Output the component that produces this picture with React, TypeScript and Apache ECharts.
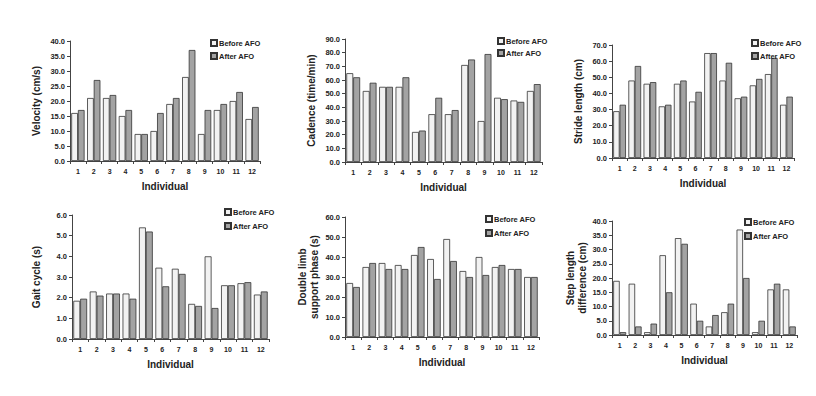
import React, { useEffect, useRef } from "react";
import * as echarts from "echarts";

const categories = ["1", "2", "3", "4", "5", "6", "7", "8", "9", "10", "11", "12"];

const velocityBefore = [16, 21, 21, 15, 9, 10, 19, 28, 9, 17, 20, 14];
const velocityAfter = [17, 27, 22, 17, 9, 16, 21, 37, 17, 19, 23, 18];

const cadenceBefore = [65, 52, 55, 55, 22, 35, 35, 71, 30, 47, 45, 52];
const cadenceAfter = [62, 58, 55, 62, 23, 47, 38, 75, 79, 46, 44, 57];

const strideBefore = [29, 48, 46, 32, 46, 35, 65, 48, 37, 45, 52, 33];
const strideAfter = [33, 57, 47, 33, 48, 41, 65, 59, 38, 49, 62, 38];

const gaitBefore = [1.85, 2.3, 2.2, 2.2, 5.4, 3.45, 3.4, 1.7, 4.0, 2.6, 2.7, 2.15];
const gaitAfter = [1.95, 2.1, 2.2, 1.95, 5.2, 2.55, 3.15, 1.6, 1.5, 2.6, 2.75, 2.3];

const doubleBefore = [27, 35, 37, 36, 41, 39, 49, 33, 40, 35, 34, 30];
const doubleAfter = [25, 37, 34, 34, 45, 29, 38, 30, 31, 36, 34, 30];

const stepBefore = [19, 18, 1, 28, 34, 11, 3, 8, 37, 1, 16, 16];
const stepAfter = [1, 3, 4, 15, 32, 5, 7, 11, 20, 5, 18, 3];

const panels = [
  { title: "Velocity (cm/s)", max: 40, interval: 5, before: velocityBefore, after: velocityAfter,
    grid: { left: 70, top: 41, width: 190, height: 120 }, legend: { left: 210, top: 39 }, gap: 5, nameGap: 28 },
  { title: "Cadence (time/min)", max: 90, interval: 10, before: cadenceBefore, after: cadenceAfter,
    grid: { left: 345, top: 39, width: 197, height: 123 }, legend: { left: 497, top: 37 }, gap: 4, nameGap: 28 },
  { title: "Stride length (cm)", max: 70, interval: 10, before: strideBefore, after: strideAfter,
    grid: { left: 612, top: 45, width: 182, height: 113 }, legend: { left: 751, top: 39 }, gap: 5, nameGap: 28 },
  { title: "Gait cycle (s)", max: 6, interval: 1, before: gaitBefore, after: gaitAfter,
    grid: { left: 72, top: 215, width: 197, height: 124 }, legend: { left: 224, top: 208 }, gap: 6, nameGap: 30 },
  { title: "Double limb\nsupport phase (s)", max: 60, interval: 10, before: doubleBefore, after: doubleAfter,
    grid: { left: 345, top: 217, width: 194, height: 120 }, legend: { left: 485, top: 215 }, gap: 6, nameGap: 25 },
  { title: "Step length\ndifference (cm)", max: 40, interval: 5, before: stepBefore, after: stepAfter,
    grid: { left: 612, top: 221, width: 185, height: 114 }, legend: { left: 744, top: 218 }, gap: 6, nameGap: 23 },
];

const FONT = "Liberation Sans, Arial, sans-serif";
const TXT = "#222";
const AX = "#444";

export default function App() {
  const ref = useRef<HTMLDivElement>(null);
  useEffect(() => {
    document.body.style.margin = "0";
    const chart = echarts.init(ref.current!, null, { renderer: "svg" });
    const grid: any[] = [];
    const xAxis: any[] = [];
    const yAxis: any[] = [];
    const series: any[] = [];
    const legend: any[] = [];
    panels.forEach((p, i) => {
      grid.push({ ...p.grid, containLabel: false });
      xAxis.push({
        type: "category", gridIndex: i, data: categories,
        name: "Individual", nameLocation: "middle", nameGap: 20,
        nameTextStyle: { fontFamily: FONT, fontWeight: "bold", fontSize: 10, color: TXT },
        axisLine: { lineStyle: { color: AX, width: 1 } },
        axisTick: { show: true, length: 3, lineStyle: { color: AX } },
        axisLabel: { fontFamily: FONT, fontWeight: "bold", fontSize: 7, color: TXT, margin: 7 },
      });
      yAxis.push({
        type: "value", gridIndex: i, min: 0, max: p.max, interval: p.interval,
        name: p.title, nameLocation: "middle", nameGap: p.nameGap, nameRotate: 90,
        nameTextStyle: { fontFamily: FONT, fontWeight: "bold", fontSize: 10, color: TXT, lineHeight: 12 },
        axisLine: { show: true, lineStyle: { color: AX, width: 1 } },
        axisTick: { show: true, length: 3, lineStyle: { color: AX } },
        splitLine: { show: false },
        axisLabel: {
          fontFamily: FONT, fontWeight: "bold", fontSize: 7.5, color: TXT, margin: 5,
          formatter: (v: number) => v.toFixed(1),
        },
      });
      series.push({
        type: "bar", name: "Before AFO", xAxisIndex: i, yAxisIndex: i, data: p.before,
        barGap: "0%", barCategoryGap: "16%",
        itemStyle: { color: "#f2f2f2", borderColor: "#333", borderWidth: 0.8 },
      });
      series.push({
        type: "bar", name: "After AFO", xAxisIndex: i, yAxisIndex: i, data: p.after,
        barGap: "0%", barCategoryGap: "16%",
        itemStyle: { color: "#a3a3a3", borderColor: "#333", borderWidth: 0.8 },
      });
      legend.push({
        data: ["Before AFO", "After AFO"], orient: "vertical",
        left: p.legend.left, top: p.legend.top, padding: 0,
        itemWidth: 6, itemHeight: 6, itemGap: p.gap, icon: "rect",
        selectedMode: false,
        textStyle: { fontFamily: FONT, fontWeight: "bold", fontSize: 7.5, color: TXT, padding: [0, 0, 0, -3] },
      });
    });
    chart.setOption({
      animation: false,
      backgroundColor: "#fff",
      grid, xAxis, yAxis, series, legend,
    });
    return () => chart.dispose();
  }, []);
  return <div ref={ref} style={{ width: 816, height: 396 }} />;
}
